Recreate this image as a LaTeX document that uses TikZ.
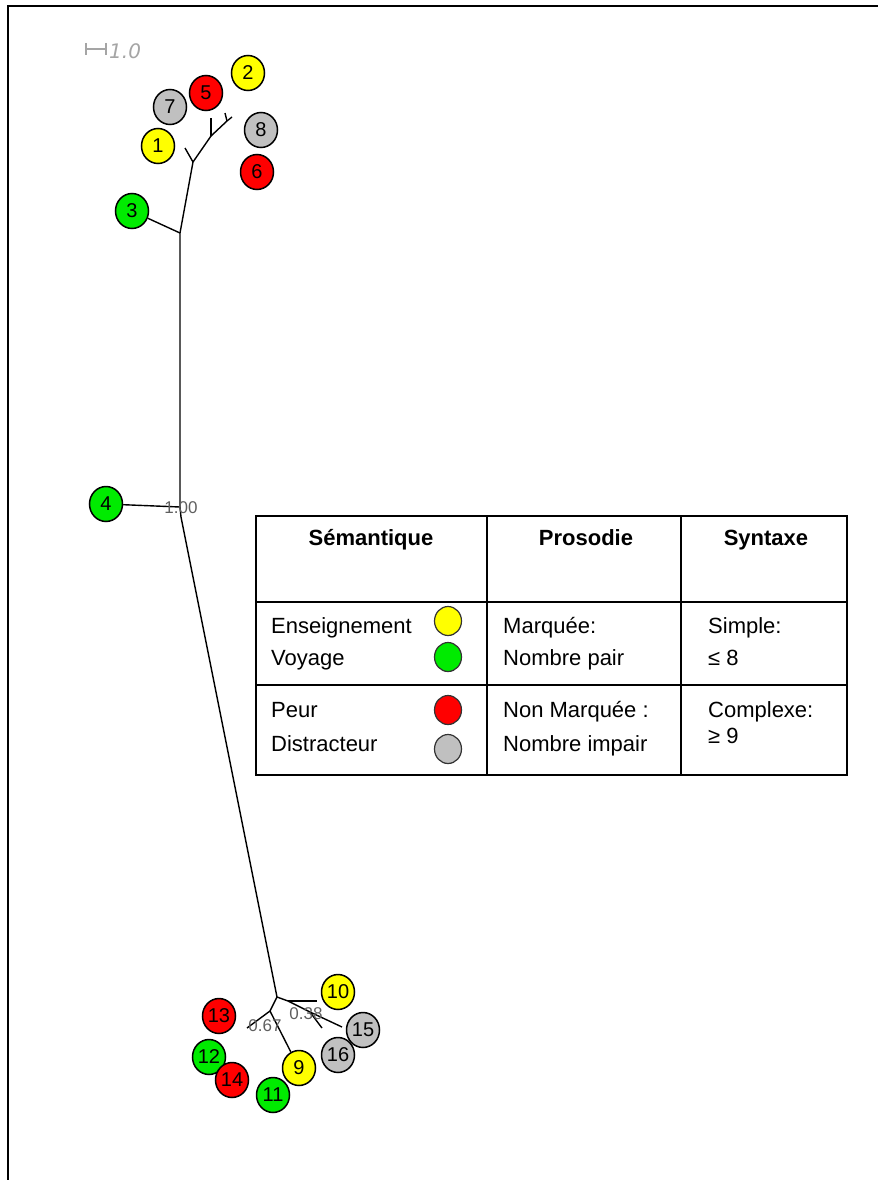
\documentclass[tikz,border=0pt]{standalone}
\usepackage{fontspec}
\setmainfont{Liberation Sans}
\newfontfamily\dejavu{DejaVu Sans}
\usetikzlibrary{shapes.geometric}
\definecolor{nyellow}{RGB}{255,255,0}
\definecolor{ngreen}{RGB}{0,235,0}
\definecolor{nred}{RGB}{255,0,0}
\definecolor{ngray}{RGB}{192,192,192}
\definecolor{lblgray}{RGB}{95,95,95}
\definecolor{scalegray}{RGB}{165,165,165}
\begin{document}
\begin{tikzpicture}[x=1pt,y=-1pt,
  leaf/.style={ellipse,draw=black,line width=1.5pt,minimum width=33pt,minimum height=35pt,inner sep=0pt,font=\fontsize{20}{20}\selectfont},
  keydot/.style={ellipse,draw=black!80,line width=1.2pt,minimum width=27pt,minimum height=29pt,inner sep=0pt},
  branch/.style={line width=1.4pt,black},
  brlabel/.style={text=lblgray,inner sep=0pt,font=\fontsize{17}{17}\selectfont},
  cell/.style={anchor=base west,inner sep=0pt,font=\fontsize{22}{22}\selectfont},
  head/.style={anchor=base,inner sep=0pt,font=\fontsize{22}{22}\selectfont\bfseries},
  tline/.style={line width=1.3pt,black}
]
\useasboundingbox (0,0) rectangle (878,1180);
% frame
\draw[line width=2.8pt] (8,1180) -- (8,6) -- (878,6);

% scale bar
\draw[scalegray,line width=1.2pt] (86,49) -- (106,49) (86,43) -- (86,55) (106,43) -- (106,55);
\node[anchor=west,inner sep=0pt,text=scalegray,font=\dejavu\itshape\fontsize{20}{20}\selectfont] (scale) at (109,51) {1.0};

% leaves
\node[leaf,fill=nyellow] (n1) at (158,146) {1};
\node[leaf,fill=nyellow] (n2) at (248,73) {2};
\node[leaf,fill=ngreen] (n3) at (132,211) {3};
\node[leaf,fill=ngreen] (n4) at (106,504) {4};
\node[leaf,fill=nred] (n5) at (206,93) {5};
\node[leaf,fill=nred] (n6) at (257,172) {6};
\node[leaf,fill=ngray] (n7) at (170,107) {7};
\node[leaf,fill=ngray] (n8) at (261,130) {8};
\node[leaf,fill=nyellow] (n10) at (338,992) {10};
\node[leaf,fill=nred] (n13) at (219,1016) {13};
\node[leaf,fill=ngray] (n15) at (363,1030) {15};
\node[leaf,fill=ngray] (n16) at (338,1055) {16};
\node[leaf,fill=ngreen] (n12) at (209,1057) {12};
\node[leaf,fill=nyellow] (n9) at (299,1068) {9};
\node[leaf,fill=nred] (n14) at (232,1080) {14};
\node[leaf,fill=ngreen] (n11) at (273,1095) {11};

% tree coordinates
\coordinate (T0) at (180,507);
\coordinate (K) at (181,517);
\coordinate (T1) at (180,233);
\coordinate (T2) at (193,162);
\coordinate (L1) at (185,148);
\coordinate (T3) at (211,136);
\coordinate (L5) at (211,118);
\coordinate (T4) at (227,121);
\coordinate (L2a) at (225,113);
\coordinate (L2b) at (232,117);
\coordinate (J) at (277,997);
\coordinate (B1) at (288,1001);
\coordinate (L10) at (317,1001);
\coordinate (B2) at (310,1012);
\coordinate (L15) at (342,1027);
\coordinate (L16) at (322,1028);
\coordinate (B3) at (270,1011);
\coordinate (L13) at (247,1028);

% tree branches
\draw[branch] (T4) -- (T3) -- (T2) -- (T1) -- (T0) -- (K) -- (J) -- (B1) -- (B2) -- (L15);
\draw[branch] (T4) -- (L2a);
\draw[branch] (T4) -- (L2b);
\draw[branch] (T3) -- (L5);
\draw[branch] (T2) -- (L1);
\draw[branch] (n3) -- (T1);
\draw[branch] (n4) -- (T0);
\draw[branch] (B1) -- (L10);
\draw[branch] (B2) -- (L16);
\draw[branch] (J) -- (B3) -- (L13);
\draw[branch] (B3) -- (n9);

% branch labels
\node[brlabel] (lab100) at (181,508) {1.00};
\node[brlabel] (lab038) at (306,1014) {0.38};
\node[brlabel] (lab067) at (265,1026) {0.67};

% legend table
\draw[tline] (256,516) rectangle (847,775);
\draw[tline] (487,516) -- (487,775);
\draw[tline] (681,516) -- (681,775);
\draw[tline] (256,602) -- (847,602);
\draw[tline] (256,685) -- (847,685);

\node[head] (hsem) at (371,545) {Sémantique};
\node[head] (hpro) at (586,545) {Prosodie};
\node[head] (hsyn) at (766,545) {Syntaxe};

\node[cell] (c1) at (271,633) {Enseignement};
\node[cell] (c2) at (271,665) {Voyage};
\node[cell] (c3) at (271,717) {Peur};
\node[cell] (c4) at (271,751) {Distracteur};
\node[keydot,fill=nyellow] (k1) at (448,621) {};
\node[keydot,fill=ngreen] (k2) at (448,657) {};
\node[keydot,fill=nred] (k3) at (448,710) {};
\node[keydot,fill=ngray] (k4) at (448,749) {};

\node[cell] (p1) at (503,633) {Marquée:};
\node[cell] (p2) at (503,665) {Nombre pair};
\node[cell] (p3) at (503,717) {Non Marquée :};
\node[cell] (p4) at (503,751) {Nombre impair};

\node[cell] (s1) at (708,633) {Simple:};
\node[cell] (s2) at (708,665) {≤ 8};
\node[cell] (s3) at (708,717) {Complexe:};
\node[cell] (s4) at (708,743) {≥ 9};
\end{tikzpicture}
\end{document}
